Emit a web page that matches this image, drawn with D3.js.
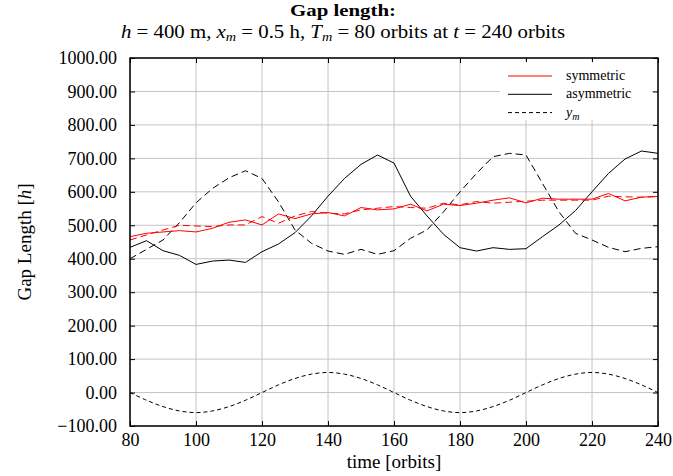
<!DOCTYPE html>
<html>
<head>
<meta charset="utf-8">
<script src="https://cdn.jsdelivr.net/npm/d3@7"></script>
<style>
    body { margin: 0; background: #fff; }
    svg text { font-family: 'Liberation Serif', 'DejaVu Serif', serif; fill: #000; }
</style>
</head>
<body>
<div id="gapChart"></div>
<script>
// sampled every 5 orbits
const times = [80, 85, 90, 95, 100, 105, 110, 115, 120, 125, 130, 135, 140, 145, 150, 155, 160,
    165, 170, 175, 180, 185, 190, 195, 200, 205, 210, 215, 220, 225, 230, 235, 240];

const symmetric = [466, 476, 480, 484, 480, 491, 509, 516, 501, 534, 520, 534, 538, 528, 553, 546, 549,
    563, 543, 563, 559, 566, 575, 582, 567, 581, 578, 578, 578, 595, 573, 584, 586];
const symmetricDashed = [456, 471, 486, 500, 498, 496, 501, 501, 526, 506, 528, 541, 536, 534, 546, 551, 556,
    553, 551, 566, 561, 571, 566, 569, 572, 575, 575, 575, 575, 587, 585, 584, 586];
const asymmetric = [434, 454, 424, 410, 383, 393, 396, 389, 421, 444, 478, 528, 587, 640, 682, 710, 686,
    587, 528, 473, 433, 423, 433, 428, 430, 466, 501, 544, 600, 655, 698, 722, 715];
const asymmetricDashed = [400, 428, 456, 508, 567, 610, 642, 663, 640, 570, 486, 446, 423, 413, 428, 413, 424,
    461, 486, 540, 600, 655, 705, 715, 710, 625, 540, 476, 456, 434, 421, 431, 436];
const ym = [0, -23, -42, -55, -60, -55, -42, -23, 0, 23, 42, 55, 60, 55, 42, 23, 0,
    -23, -42, -55, -60, -55, -42, -23, 0, 23, 42, 55, 60, 55, 42, 23, 0];

const xTicks = [80, 100, 120, 140, 160, 180, 200, 220, 240];
const yTicks = [-100, 0, 100, 200, 300, 400, 500, 600, 700, 800, 900, 1000];

class GapLengthVis {
    constructor() {
        this.margin = {top: 58, right: 15, bottom: 50, left: 130};
        this.width = 673 - this.margin.left - this.margin.right;
        this.height = 476 - this.margin.top - this.margin.bottom;
        this.colors = {red: '#ff0000', black: '#000000', grid: '#c4c4c4'};
    }

    create() {
        const root = d3.select('#gapChart').append('svg')
            .attr('width', 673)
            .attr('height', 476);

        this.createTitle(root);

        const svg = root.append('g')
            .attr('transform', `translate(${this.margin.left},${this.margin.top})`);

        const x = d3.scaleLinear().domain([80, 240]).range([0, this.width]);
        const y = d3.scaleLinear().domain([-100, 1000]).range([this.height, 0]);

        this.createGrid(svg, x, y);

        const addLine = (vals, color, dash, curve) => {
            const gen = d3.line().x((d, i) => x(times[i])).y(d => y(d));
            if (curve) gen.curve(d3.curveCatmullRom);
            svg.append('path')
                .attr('d', gen(vals))
                .attr('fill', 'none')
                .attr('stroke', color)
                .attr('stroke-width', 1)
                .attr('stroke-dasharray', dash)
                .attr('stroke-linejoin', 'round');
        };

        addLine(asymmetricDashed, this.colors.black, '7,4');
        addLine(ym, this.colors.black, '4,3', true);
        addLine(asymmetric, this.colors.black, null);
        addLine(symmetricDashed, this.colors.red, '7,4');
        addLine(symmetric, this.colors.red, null);

        this.createAxes(svg, x, y);
        this.createLabels(svg);
        this.createLegend(svg);
    }

    createTitle(root) {
        root.append('text')
            .attr('x', 343)
            .attr('y', 16)
            .attr('text-anchor', 'middle')
            .attr('textLength', 106)
            .attr('lengthAdjust', 'spacingAndGlyphs')
            .style('font-size', '17px')
            .style('font-weight', 'bold')
            .text('Gap length:');

        const sub = root.append('text')
            .attr('x', 343)
            .attr('y', 38)
            .attr('text-anchor', 'middle')
            .attr('textLength', 444)
            .attr('lengthAdjust', 'spacingAndGlyphs')
            .style('font-size', '19px');
        // [text, italic, subscript]
        const parts = [
            ['h', true], [' = 400 m, ', false], ['x', true], ['m', true, true], [' = 0.5 h, ', false],
            ['T', true], ['m', true, true], [' = 80 orbits at ', false], ['t', true], [' = 240 orbits', false]
        ];
        let shifted = false;
        parts.forEach(p => {
            const t = sub.append('tspan')
                .style('font-style', p[1] ? 'italic' : 'normal')
                .text(p[0]);
            if (p[2]) {
                t.style('font-size', '13px').attr('dy', 3);
                shifted = true;
            } else if (shifted) {
                t.attr('dy', -3);
                shifted = false;
            }
        });
    }

    createGrid(svg, x, y) {
        svg.append('g')
            .selectAll('line')
            .data(xTicks)
            .join('line')
            .attr('x1', d => x(d)).attr('x2', d => x(d))
            .attr('y1', 0).attr('y2', this.height)
            .attr('stroke', this.colors.grid)
            .attr('stroke-width', 1);

        svg.append('g')
            .selectAll('line')
            .data(yTicks)
            .join('line')
            .attr('x1', 0).attr('x2', this.width)
            .attr('y1', d => y(d)).attr('y2', d => y(d))
            .attr('stroke', this.colors.grid)
            .attr('stroke-width', 1);
    }

    createAxes(svg, x, y) {
        const style = g => {
            g.select('.domain').remove();
            g.selectAll('line').attr('stroke', '#000').attr('stroke-width', 1);
            g.selectAll('text')
                .style('font-family', "'Liberation Serif', serif")
                .style('font-size', '18px');
        };

        svg.append('g')
            .attr('transform', `translate(0,${this.height})`)
            .call(d3.axisBottom(x).tickValues(xTicks).tickSize(-5).tickPadding(7).tickFormat(d3.format('d')))
            .call(style);

        svg.append('g')
            .call(d3.axisTop(x).tickValues(xTicks).tickSize(-5).tickFormat(''))
            .call(style);

        svg.append('g')
            .call(d3.axisLeft(y).tickValues(yTicks).tickSize(-5).tickPadding(13)
                .tickFormat(d => (d < 0 ? '\u2212' : '') + Math.abs(d).toFixed(2)))
            .call(style);

        svg.append('g')
            .attr('transform', `translate(${this.width},0)`)
            .call(d3.axisRight(y).tickValues(yTicks).tickSize(-5).tickFormat(''))
            .call(style);

        svg.append('rect')
            .attr('width', this.width)
            .attr('height', this.height)
            .attr('fill', 'none')
            .attr('stroke', '#000')
            .attr('stroke-width', 1.5);
    }

    createLabels(svg) {
        svg.append('text')
            .attr('x', this.width / 2)
            .attr('y', this.height + 42)
            .attr('text-anchor', 'middle')
            .style('font-size', '19px')
            .text('time [orbits]');

        const yl = svg.append('text')
            .attr('transform', 'rotate(-90)')
            .attr('x', -this.height / 2)
            .attr('y', -99)
            .attr('text-anchor', 'middle')
            .style('font-size', '19px');
        yl.append('tspan').text('Gap Length [');
        yl.append('tspan').style('font-style', 'italic').text('h');
        yl.append('tspan').text(']');
    }

    createLegend(svg) {
        const legend = svg.append('g')
            .attr('transform', `translate(${this.width - 158}, 4)`);

        legend.append('rect')
            .attr('width', 152)
            .attr('height', 58)
            .attr('fill', '#fff');

        const items = [
            {label: 'symmetric', color: this.colors.red, dash: null},
            {label: 'asymmetric', color: this.colors.black, dash: null},
            {label: 'ym', color: this.colors.black, dash: '4,3'}
        ];

        items.forEach((d, i) => {
            const yy = 14 + i * 18.3;
            legend.append('line')
                .attr('x1', 8).attr('x2', 52)
                .attr('y1', yy).attr('y2', yy)
                .attr('stroke', d.color)
                .attr('stroke-width', 1)
                .attr('stroke-dasharray', d.dash);

            const t = legend.append('text')
                .attr('x', 66)
                .attr('y', yy + 4)
                .style('font-size', '14px');
            if (d.label === 'ym') {
                t.append('tspan').style('font-style', 'italic').text('y');
                t.append('tspan').style('font-style', 'italic').style('font-size', '10px').attr('dy', 3).text('m');
            } else {
                t.text(d.label);
            }
        });
    }
}

new GapLengthVis().create();
</script>
</body>
</html>
